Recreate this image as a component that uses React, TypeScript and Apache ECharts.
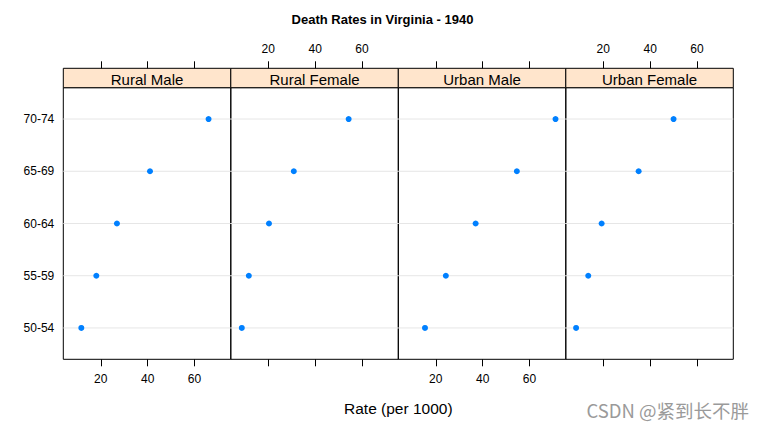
import React, { useEffect, useRef } from "react";
import * as echarts from "echarts";

const ages = ["50-54", "55-59", "60-64", "65-69", "70-74"];
const groups = ["Rural Male", "Rural Female", "Urban Male", "Urban Female"];
const ruralMale = [11.7, 18.1, 26.9, 41.0, 66.0];
const ruralFemale = [8.7, 11.7, 20.3, 30.9, 54.3];
const urbanMale = [15.4, 24.3, 37.0, 54.6, 71.1];
const urbanFemale = [8.4, 13.6, 19.3, 35.1, 50.0];
const xTicks = [20, 40, 60];
const title = "Death Rates in Virginia - 1940";
const xLabel = "Rate (per 1000)";
const watermark = "CSDN @紧到长不胖";

const X_MIN = 4.01;
const X_MAX = 75.49;
const Y_MIN = -0.6;
const Y_MAX = 4.6;

export default function App() {
  const ref = useRef<HTMLDivElement>(null);
  useEffect(() => {
    document.body.style.margin = "0";
    const chart = echarts.init(ref.current!, null, { renderer: "svg" });
    const values = [ruralMale, ruralFemale, urbanMale, urbanFemale];
    const font = "Liberation Sans, Arial, sans-serif";
    const L0 = 63.3;
    const W = 167.5;
    const TOP = 87.7;
    const H = 271.6;
    const STRIP = 19.4;
    const grids: any[] = [];
    const xAxes: any[] = [];
    const yAxes: any[] = [];
    const series: any[] = [];
    const graphics: any[] = [];
    groups.forEach((g, i) => {
      const left = L0 + i * W;
      grids.push({
        left,
        top: TOP,
        width: W,
        height: H,
        show: true,
        borderColor: "#000",
        borderWidth: 1,
        backgroundColor: "transparent",
      });
      const common = {
        type: "value",
        gridIndex: i,
        min: X_MIN,
        max: X_MAX,
        axisLine: { show: false, onZero: false },
        splitLine: { show: false },
        axisTick: {
          show: true,
          customValues: xTicks,
          length: 7,
          inside: false,
          lineStyle: { color: "#000", width: 1 },
        },
      };
      xAxes.push({
        ...common,
        position: "bottom",
        axisLabel: {
          show: i % 2 === 0,
          customValues: xTicks,
          margin: 14,
          fontSize: 12,
          color: "#000",
          fontFamily: font,
        },
      });
      xAxes.push({
        ...common,
        position: "top",
        offset: STRIP,
        axisLabel: {
          show: i % 2 === 1,
          customValues: xTicks,
          margin: 13,
          fontSize: 12,
          color: "#000",
          fontFamily: font,
        },
      });
      yAxes.push({
        type: "value",
        gridIndex: i,
        min: Y_MIN,
        max: Y_MAX,
        axisLine: { show: false, onZero: false },
        axisTick: { show: false },
        splitLine: { show: false },
        axisLabel: {
          show: i === 0,
          customValues: ages.map((_, k) => k),
          formatter: (v: number) => ages[Math.round(v)] ?? "",
          margin: 9,
          fontSize: 12,
          color: "#000",
          fontFamily: font,
        },
      });
      ages.forEach((_, k) => {
        series.push({
          type: "line",
          xAxisIndex: i * 2,
          yAxisIndex: i,
          data: [
            [X_MIN, k],
            [X_MAX, k],
          ],
          symbol: "none",
          silent: true,
          z: 1,
          lineStyle: { color: "#e6e6e6", width: 1 },
        });
      });
      series.push({
        type: "scatter",
        name: g,
        xAxisIndex: i * 2,
        yAxisIndex: i,
        data: values[i].map((v, k) => [v, k]),
        symbol: "circle",
        symbolSize: 6,
        z: 3,
        itemStyle: { color: "#0080ff", opacity: 1 },
      });
      graphics.push({
        type: "rect",
        shape: { x: left, y: TOP - STRIP, width: W, height: STRIP },
        style: { fill: "#ffe5cc", stroke: "#000", lineWidth: 1 },
      });
      graphics.push({
        type: "text",
        x: left + W / 2,
        y: TOP - STRIP / 2 + 1,
        style: {
          text: g,
          fontSize: 15,
          fontFamily: font,
          fill: "#000",
          align: "center",
          verticalAlign: "middle",
        },
      });
    });
    graphics.push({
      type: "text",
      x: L0 + 2 * W,
      y: 408,
      style: {
        text: xLabel,
        fontSize: 15.5,
        fontFamily: font,
        fill: "#000",
        align: "center",
        verticalAlign: "middle",
      },
    });
    graphics.push({
      type: "text",
      x: 749,
      y: 410,
      style: {
        text: watermark,
        fontSize: 18.5,
        fontFamily: "Noto Sans CJK SC, Liberation Sans, sans-serif",
        fill: "#9a9a9a",
        align: "right",
        verticalAlign: "middle",
      },
    });
    chart.setOption({
      animation: false,
      backgroundColor: "#fff",
      title: {
        text: title,
        left: "center",
        top: 8,
        textStyle: {
          fontSize: 13,
          fontWeight: "bold",
          color: "#000",
          fontFamily: font,
        },
      },
      grid: grids,
      xAxis: xAxes,
      yAxis: yAxes,
      series,
      graphic: graphics,
    });
    return () => chart.dispose();
  }, []);
  return <div ref={ref} style={{ width: 765, height: 430 }} />;
}
